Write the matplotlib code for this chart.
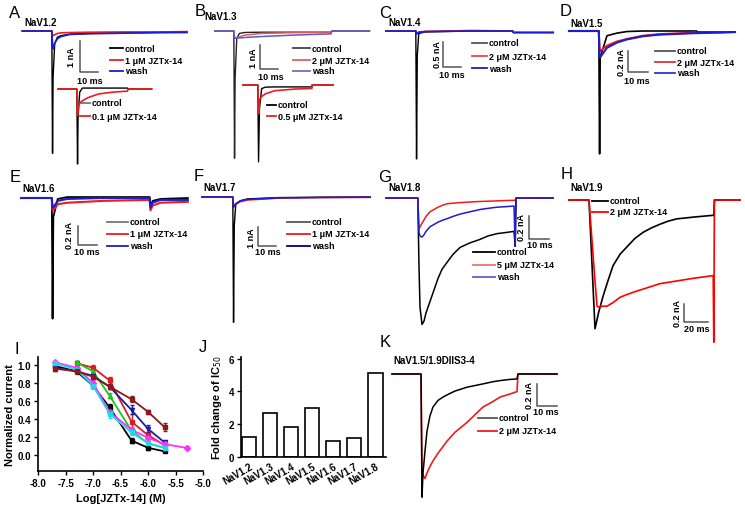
import matplotlib
matplotlib.use('Agg')
import matplotlib.pyplot as plt

plt.rcParams['font.family'] = ['Liberation Sans', 'DejaVu Sans']

# ---- current traces: time (ms from pulse onset), current (nA) ----
A_T = [-16.5, -0.1, 0.3, 0.6, 1.5, 3, 5, 10, 20, 40, 60, 75]
A_CTRL = [0, 0, -3.95, -1.5, -0.4, -0.2, -0.15, -0.1, -0.08, -0.06, -0.05, -0.05]
A_TOX = [0, 0, -0.15, -0.15, -0.12, -0.08, -0.06, -0.05, -0.04, -0.03, -0.03, -0.02]
A_WASH = [0, 0, -0.4, -0.58, -0.4, -0.25, -0.18, -0.11, -0.09, -0.07, -0.05, -0.04]

A2_T = [-10.5, -0.1, 0.3, 0.6, 1.5, 3, 6, 12, 20, 28, 28.5, 41.5]
A2_CTRL = [0, 0, -2.42, -0.9, -0.1, 0.03, 0.03, 0.03, 0.03, 0.03, 0.0, 0.0]
A2_TOX = [0, 0, -0.85, -0.6, -0.45, -0.38, -0.28, -0.16, -0.1, -0.07, 0.0, 0.0]

B_T = [-10.4, -0.1, 0.3, 0.6, 1.5, 3, 6, 15, 33, 53, 53.5, 74]
B_CTRL = [0, 0, -5.3, -2.0, -0.3, -0.1, -0.06, -0.05, -0.05, -0.05, 0, 0]
B_TOX = [0, 0, -0.3, -0.3, -0.28, -0.24, -0.17, -0.1, -0.07, -0.06, 0, 0]
B_WASH = [0, 0, -0.3, -0.3, -0.3, -0.29, -0.27, -0.23, -0.17, -0.12, 0, 0]

B2_T = [-8.2, -0.1, 0.3, 0.8, 2, 4, 9, 20, 29.4, 29.6, 41]
B2_CTRL = [0, 0, -3.2, -1.0, -0.15, -0.09, -0.08, -0.08, -0.08, 0, 0]
B2_TOX = [0, 0, -1.2, -0.6, -0.48, -0.37, -0.24, -0.17, -0.14, 0, 0]

C_T = [-16.4, -0.1, 0.3, 0.7, 1.5, 5, 30, 52.8, 53.2, 75]
C_CTRL = [0, 0, -2.56, -0.5, -0.05, -0.02, 0, 0, -0.03, -0.03]
C_TOX = [0, 0, -0.05, -0.04, -0.02, -0.01, 0.01, 0, -0.03, -0.03]
C_WASH = [0, 0, -0.06, -0.05, -0.03, -0.01, 0, 0, -0.03, -0.03]

D_T = [-15, -0.1, 0.3, 0.6, 4, 9, 14, 22, 30, 48.8, 49.2, 68]
D_CTRL = [0, 0, -1.17, -0.25, -0.045, -0.02, -0.005, 0, 0, 0, -0.01, -0.01]
D_TOX = [0, 0, -0.19, -0.19, -0.14, -0.1, -0.076, -0.045, -0.03, -0.015, -0.02, -0.01]
D_WASH = [0, 0, -0.25, -0.25, -0.16, -0.11, -0.08, -0.05, -0.035, -0.02, -0.02, -0.01]

E_T = [-16.3, -0.1, 0.3, 0.7, 3, 8, 27, 51.4, 51.8, 53, 57, 71.5]
E_CTRL = [0, 0, -1.27, -0.2, -0.01, 0.01, 0.01, 0.01, -0.08, -0.03, -0.01, 0]
E_TOX = [0, 0, -0.13, -0.13, -0.065, -0.05, -0.03, -0.02, -0.13, -0.08, -0.05, -0.04]
E_WASH = [0, 0, -0.1, -0.1, -0.03, -0.01, 0, 0, -0.1, -0.05, -0.02, -0.02]

F_T = [-17, -0.1, 0.3, 0.7, 1.5, 4, 8, 25, 50, 75]
F_CTRL = [0, 0, -6.6, -1.5, -0.4, -0.2, -0.1, -0.03, -0.01, 0]
F_TOX = [0, 0, -0.45, -0.45, -0.38, -0.25, -0.16, -0.06, -0.03, -0.02]
F_WASH = [0, 0, -0.53, -0.5, -0.35, -0.2, -0.12, -0.05, -0.02, -0.01]

G_T = [-16, -0.1, 0.5, 1, 2, 3, 4, 6, 8, 10, 12, 14.5, 17.5, 21, 26, 31, 35, 39.5, 44,
       48, 48.6, 49, 67.5]
G_CTRL = [0, 0, -0.6, -0.95, -1.1, -1.07, -1.0, -0.9, -0.8, -0.7, -0.62, -0.56, -0.49,
          -0.43, -0.39, -0.36, -0.33, -0.31, -0.30, -0.29, -0.42, 0, 0]
G_TOX = [0, 0, -0.27, -0.25, -0.22, -0.19, -0.16, -0.12, -0.1, -0.08, -0.065, -0.05,
         -0.045, -0.04, -0.035, -0.03, -0.028, -0.025, -0.022, -0.02, -0.02, 0, 0]
G_WASH = [0, 0, -0.3, -0.33, -0.34, -0.32, -0.29, -0.25, -0.23, -0.21, -0.195, -0.18,
          -0.16, -0.14, -0.12, -0.1, -0.09, -0.08, -0.075, -0.07, -0.42, 0, 0]

H_T = [-16.7, 0, 5, 6.7, 8, 11.7, 15, 20, 26, 31.7, 38, 45, 52, 59, 66, 73, 87, 103.5,
       104, 104.5, 125.8]
H_CTRL = [0, 0, -1.43, -1.33, -1.25, -1.07, -0.93, -0.73, -0.6, -0.52, -0.43, -0.36,
          -0.31, -0.27, -0.235, -0.21, -0.19, -0.17, -0.17, 0, 0]
H_TOX = [0, 0, -0.9, -1.18, -1.19, -1.18, -1.18, -1.14, -1.08, -1.05, -1.02, -0.99,
         -0.96, -0.93, -0.915, -0.9, -0.87, -0.84, -1.58, 0, 0]

K_T = [-14.5, 0, 0.5, 1, 2, 3, 4.5, 6, 8.5, 11, 13, 17, 23, 27, 31, 36, 39.5, 44, 48,
       48.5, 68]
K_CTRL = [0, 0, -1.12, -0.9, -0.7, -0.52, -0.38, -0.3, -0.24, -0.21, -0.19, -0.155,
          -0.12, -0.105, -0.09, -0.07, -0.06, -0.05, -0.045, 0, 0]
K_TOX = [0, 0, -0.85, -0.92, -0.95, -0.9, -0.84, -0.79, -0.72, -0.66, -0.61, -0.53,
         -0.44, -0.37, -0.3, -0.25, -0.21, -0.185, -0.16, 0, 0]

# ---- dose response (panel I) ----
I_NAMES = ['NaV1.2', 'NaV1.3', 'NaV1.4', 'NaV1.5', 'NaV1.6', 'NaV1.7', 'NaV1.8']
I_X = [[-7.7, -7.3, -7.0, -6.7, -6.3, -6.0, -5.7],
       [-7.3, -7.0, -6.7, -6.3, -6.0, -5.7],
       [-7.3, -7.0, -6.7, -6.3, -6.0, -5.7],
       [-7.7, -7.3, -7.0, -6.7, -6.3, -6.0, -5.7],
       [-7.7, -7.3, -7.0, -6.7, -6.3, -6.0, -5.7, -5.3],
       [-7.7, -7.3, -7.0, -6.7, -6.3, -6.0, -5.7],
       [-7.7, -7.3, -7.0, -6.7, -6.3, -6.0, -5.7]]
I_Y = [[0.99, 0.93, 0.77, 0.53, 0.16, 0.08, 0.04],
       [1.02, 0.97, 0.83, 0.37, 0.22, 0.11],
       [1.03, 0.93, 0.66, 0.27, 0.13, 0.08],
       [0.97, 0.93, 0.88, 0.76, 0.50, 0.29, 0.14],
       [1.03, 0.97, 0.80, 0.48, 0.28, 0.19, 0.12, 0.08],
       [1.02, 0.95, 0.77, 0.46, 0.25, 0.13, 0.08],
       [0.96, 0.93, 0.87, 0.76, 0.62, 0.48, 0.31]]
I_ERR = [[0.02, 0.02, 0.03, 0.04, 0.03, 0.02, 0.01],
         [0.02, 0.03, 0.04, 0.09, 0.03, 0.02],
         [0.02, 0.02, 0.03, 0.03, 0.02, 0.02],
         [0.02, 0.02, 0.02, 0.03, 0.05, 0.04, 0.02],
         [0.02, 0.02, 0.03, 0.04, 0.03, 0.03, 0.02, 0.02],
         [0.02, 0.02, 0.03, 0.05, 0.03, 0.02, 0.02],
         [0.03, 0.03, 0.02, 0.03, 0.03, 0.02, 0.04]]
I_COLORS = ['#000000', '#d42020', '#22c022', '#1c1ca0', '#ff30ff', '#20d8e8', '#8b1a1a']
I_MARKERS = ['s', 's', '^', 'v', 'D', 's', 's']

# ---- fold change of IC50 (panel J) ----
J_NAMES = ['NaV1.2', 'NaV1.3', 'NaV1.4', 'NaV1.5', 'NaV1.6', 'NaV1.7', 'NaV1.8']
J_FOLD = [1.23, 2.7, 1.84, 3.0, 0.98, 1.17, 5.15]

W, H = 745, 510
fig = plt.figure(figsize=(W / 100, H / 100), dpi=100)

ov = fig.add_axes([0, 0, 1, 1])
ov.set_xlim(0, W)
ov.set_ylim(H, 0)
ov.axis('off')


def px_axes(x0, y0, x1, y1):
    return fig.add_axes([x0 / W, 1 - y1 / H, (x1 - x0) / W, (y1 - y0) / H])


def trace_panel(box, geom):
    x0, y0, x1, y1 = box
    onset_x, base_y, px_ms, px_na = geom
    ax = px_axes(x0, y0, x1, y1)
    ax.set_xlim((x0 - onset_x) / px_ms, (x1 - onset_x) / px_ms)
    ax.set_ylim((base_y - y1) / px_na, (base_y - y0) / px_na)
    ax.axis('off')
    return ax


def scale_bar(ax, geom, corner, ms, na, na_label, ms_label, lab_pos, ms_pos):
    onset_x, base_y, px_ms, px_na = geom
    t = (corner[0] - onset_x) / px_ms
    i = (base_y - corner[1]) / px_na
    ax.plot([t, t, t + ms], [i + na, i, i], color='#555555', lw=1.1, clip_on=False)
    ov.text(lab_pos[0], lab_pos[1], na_label, rotation=90, fontsize=6.5,
            fontweight='bold', ha='center', va='center')
    ov.text(ms_pos[0], ms_pos[1], ms_label, fontsize=6.5, fontweight='bold',
            ha='center', va='center')


def legend(x0, x1, ys, labels, colors):
    for y, lab, c in zip(ys, labels, colors):
        ov.plot([x0, x1], [y, y], color=c, lw=1.3)
        ov.text(x1 + 2, y, lab, fontsize=6.5, fontweight='bold', ha='left', va='center')


def letter(x, y, s):
    ov.text(x, y, s, fontsize=12, ha='center', va='center')


def title(x, y, s):
    ov.text(x, y, s, fontsize=7, fontweight='bold', ha='left', va='center')


BLK, RED, BLU = '#000000', '#ee1c1c', '#1c1cd0'
MU = '\u03bcM JZTx-14'

# A
g = (52, 32, 1.8, 31)
ax = trace_panel((22, 25, 188, 170), g)
ax.plot(A_T, A_CTRL, color=BLK, lw=1, clip_on=False)
ax.plot(A_T, A_TOX, color=RED, lw=1.2, clip_on=False)
ax.plot(A_T, A_WASH, color=BLU, lw=1.2, clip_on=False)
scale_bar(ax, g, (80, 73), 10, 1, '1 nA', '10 ms', (72, 57), (90, 81))
g = (77, 90, 1.8, 31)
ax = trace_panel((58, 80, 152, 170), g)
ax.plot(A2_T, A2_CTRL, color=BLK, lw=1, clip_on=False)
ax.plot(A2_T, A2_TOX, color=RED, lw=1.2, clip_on=False)
letter(15, 13, 'A')
title(24, 23, 'NaV1.2')
legend(110, 123, [49, 61, 72], ['control', '1 ' + MU, 'wash'], [BLK, RED, BLU])
legend(80, 90, [104, 117], ['control', '0.1 ' + MU], ['#777777', RED])

# B
g = (234, 32, 1.83, 24)
ax = trace_panel((215, 25, 370, 170), g)
ax.plot(B_T, B_CTRL, color='#222222', lw=1, clip_on=False)
ax.plot(B_T, B_TOX, color='#e05a5a', lw=1.1, clip_on=False)
ax.plot(B_T, B_WASH, color='#5a5ac8', lw=1.1, clip_on=False)
scale_bar(ax, g, (260, 70), 10, 1, '1 nA', '10 ms', (253, 58), (271, 78))
g = (258, 86, 1.83, 24)
ax = trace_panel((243, 80, 333, 170), g)
ax.plot(B2_T, B2_CTRL, color=BLK, lw=1, clip_on=False)
ax.plot(B2_T, B2_TOX, color=RED, lw=1.2, clip_on=False)
letter(200, 12, 'B')
title(204, 17, 'NaV1.3')
legend(293, 310, [49, 61, 72], ['control', '2 ' + MU, 'wash'], ['#444444', '#e06060', '#7070c0'])
legend(267, 276, [106, 117], ['control', '0.5 ' + MU], [BLK, RED])

# C
g = (416, 32, 1.83, 50)
ax = trace_panel((386, 25, 553, 170), g)
ax.plot(C_T, C_CTRL, color=BLK, lw=1, clip_on=False)
ax.plot(C_T, C_TOX, color=RED, lw=1.2, clip_on=False)
ax.plot(C_T, C_WASH, color=BLU, lw=1.2, clip_on=False)
scale_bar(ax, g, (443, 68), 10, 0.5, '0.5 nA', '10 ms', (437, 55), (452, 76))
letter(385, 13, 'C')
title(388, 23, 'NaV1.4')
legend(472, 487, [44, 57, 69], ['control', '2 ' + MU, 'wash'], ['#555555', '#ee4444', '#2020a0'])

# D
g = (599, 32, 2.0, 105)
ax = trace_panel((569, 25, 735, 170), g)
ax.plot(D_T, D_CTRL, color=BLK, lw=1.2, clip_on=False)
ax.plot(D_T, D_TOX, color=RED, lw=1.5, clip_on=False)
ax.plot(D_T, D_WASH, color=BLU, lw=1.5, clip_on=False)
scale_bar(ax, g, (628, 73), 10, 0.2, '0.2 nA', '10 ms', (622, 62), (637, 82))
letter(566, 12, 'D')
title(570, 24, 'NaV1.5')
legend(655, 675, [52, 63, 74], ['control', '2 ' + MU, 'wash'], ['#555555', '#dd3333', '#3333cc'])

# E
g = (52, 199, 1.9, 95)
ax = trace_panel((21, 190, 188, 330), g)
ax.plot(E_T, E_CTRL, color=BLK, lw=1.3, clip_on=False)
ax.plot(E_T, E_TOX, color=RED, lw=1.5, clip_on=False)
ax.plot(E_T, E_WASH, color=BLU, lw=1.5, clip_on=False)
scale_bar(ax, g, (78, 246), 10, 0.2, '0.2 nA', '10 ms', (70, 236), (87, 253))
letter(15, 178, 'E')
title(22, 189, 'NaV1.6')
legend(107, 128, [223, 235, 247], ['control', '1 ' + MU, 'wash'], ['#777777', RED, BLU])

# F
g = (233, 198, 1.83, 19)
ax = trace_panel((202, 190, 370, 330), g)
ax.plot(F_T, F_CTRL, color=BLK, lw=1, clip_on=False)
ax.plot(F_T, F_TOX, color=RED, lw=1.1, clip_on=False)
ax.plot(F_T, F_WASH, color=BLU, lw=1.1, clip_on=False)
scale_bar(ax, g, (258, 247), 10, 1, '1 nA', '10 ms', (252, 238), (268, 253))
letter(199, 177, 'F')
title(203, 188, 'NaV1.7')
legend(287, 310, [223, 235, 247], ['control', '1 ' + MU, 'wash'], ['#555555', RED, '#000080'])

# G
g = (418, 199, 2.0, 115)
ax = trace_panel((386, 190, 553, 330), g)
ax.plot(G_T, G_CTRL, color=BLK, lw=1.1, clip_on=False)
ax.plot(G_T, G_TOX, color=RED, lw=1.1, clip_on=False)
ax.plot(G_T, G_WASH, color=BLU, lw=1.1, clip_on=False)
scale_bar(ax, g, (529, 240), 10, 0.2, '0.2 nA', '10 ms', (522, 228), (540, 246))
letter(385, 178, 'G')
title(388, 188, 'NaV1.8')
legend(473, 495, [253, 266, 278], ['control', '5 ' + MU, 'wash'], [BLK, '#f07070', '#6060c0'])

# H
g = (589, 201, 1.2, 90)
ax = trace_panel((569, 190, 740, 345), g)
ax.plot(H_T, H_CTRL, color=BLK, lw=1.2, clip_on=False)
ax.plot(H_T, H_TOX, color='#ff0000', lw=1.2, clip_on=False)
scale_bar(ax, g, (684, 323), 20, 0.2, '0.2 nA', '20 ms', (677, 314), (697, 330))
letter(567, 175, 'H')
title(570, 188, 'NaV1.9')
legend(592, 608, [202, 213], ['control', '2 ' + MU], [BLK, '#ff0000'])

# K
g = (421, 375, 2.0, 110)
ax = trace_panel((392, 368, 557, 505), g)
ax.plot(K_T, K_TOX, color=RED, lw=1.2, clip_on=False)
ax.plot(K_T, K_CTRL, color=BLK, lw=1.1, clip_on=False)
scale_bar(ax, g, (537, 407), 10, 0.2, '0.2 nA', '10 ms', (529, 396), (546, 413))
letter(385, 343, 'K')
title(393, 361, 'NaV1.5/1.9DIIS3-4')
legend(478, 497, [419, 432], ['control', '2 ' + MU], ['#555555', RED])

# I: dose response
ax = px_axes(38, 358, 203, 472)
for xs, ys, es, c, m in zip(I_X, I_Y, I_ERR, I_COLORS, I_MARKERS):
    ax.errorbar(xs, ys, yerr=es, color=c, marker=m, ms=3, lw=1.3, capsize=1.5,
                elinewidth=1, clip_on=False)
ax.set_xlim(-8, -5)
ax.set_ylim(-0.178, 1.089)
ax.set_xticks([-8.0, -7.5, -7.0, -6.5, -6.0, -5.5, -5.0])
ax.set_xticklabels(['-8.0', '-7.5', '-7.0', '-6.5', '-6.0', '-5.5', '-5.0'])
ax.set_yticks([0.0, 0.2, 0.4, 0.6, 0.8, 1.0])
ax.set_yticklabels(['0.0', '0.2', '0.4', '0.6', '0.8', '1.0'])
for s in ['top', 'right']:
    ax.spines[s].set_visible(False)
for s in ['left', 'bottom']:
    ax.spines[s].set_linewidth(1.2)
ax.tick_params(length=3, width=1, pad=2, labelsize=7)
for t in ax.get_xticklabels() + ax.get_yticklabels():
    t.set_fontweight('bold')
ax.set_xlabel('Log[JZTx-14] (M)', fontsize=8, fontweight='bold', labelpad=4)
ax.set_ylabel('Normalized current', fontsize=8, fontweight='bold', labelpad=2)
letter(17, 350, 'I')
for k, (name, c) in enumerate(zip(I_NAMES, I_COLORS)):
    y = 402 + 10.2 * k
    ov.plot([42, 62], [y, y], color=c, lw=1.3)
    ov.text(65, y, name, fontsize=6.5, fontweight='bold', ha='left', va='center')

# J: fold change of IC50
ax = px_axes(241, 358, 386, 458)
ax.bar(range(len(J_FOLD)), J_FOLD, width=0.667, color='white', edgecolor='black', lw=1.2)
ax.set_xlim(-0.4, 6.5)
ax.set_ylim(0, 6.1)
ax.set_yticks([0, 2, 4, 6])
ax.set_xticks(range(len(J_NAMES)))
ax.set_xticklabels(J_NAMES, rotation=30, ha='right', rotation_mode='anchor')
for s in ['top', 'right']:
    ax.spines[s].set_visible(False)
for s in ['left', 'bottom']:
    ax.spines[s].set_linewidth(1.2)
ax.tick_params(axis='y', length=3, width=1, pad=2, labelsize=7)
ax.tick_params(axis='x', length=0, pad=3, labelsize=7)
for t in ax.get_xticklabels() + ax.get_yticklabels():
    t.set_fontweight('bold')
ax.set_ylabel('Fold change of IC$_{50}$', fontsize=8, fontweight='bold', labelpad=3)
letter(203, 348, 'J')

fig.savefig('out.png', dpi=100)
